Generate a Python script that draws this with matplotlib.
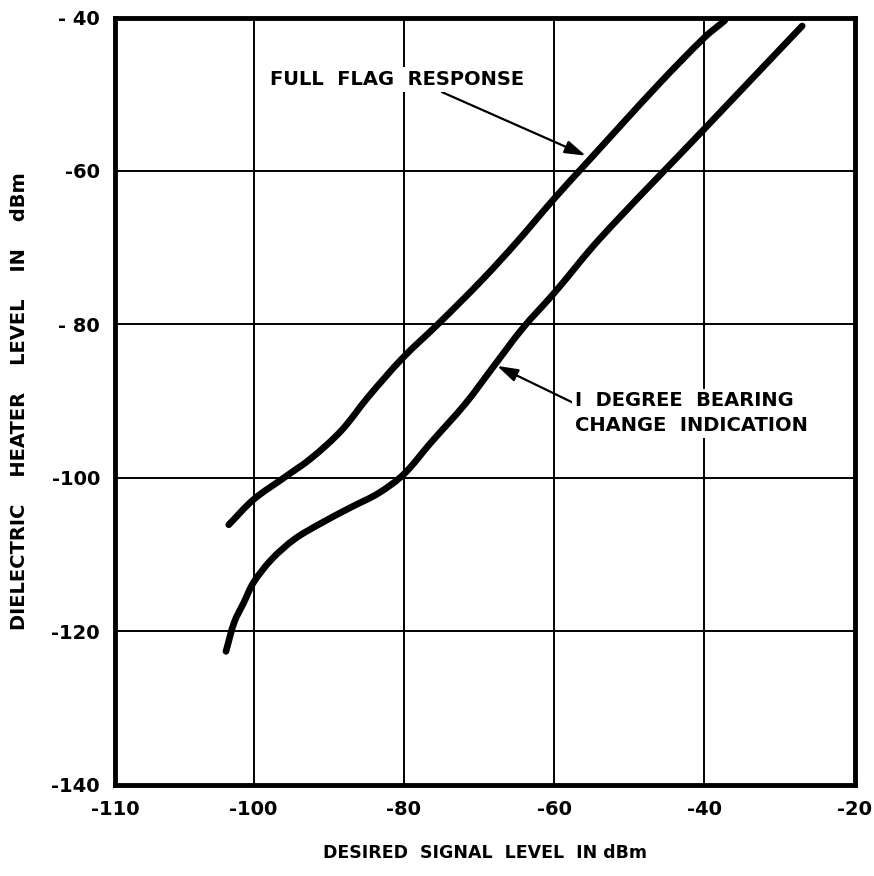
import numpy as np
import matplotlib
matplotlib.use("Agg")
import matplotlib.pyplot as plt
from matplotlib.path import Path
from matplotlib.patches import PathPatch

# ---- data ----
full_flag_x = [-101.8, -100.0, -96.0, -92.3, -88.3, -84.8, -80.2, -75.3, -69.7, -65.1, -60.0, -56.2, -46.1, -40.0, -37.3]
full_flag_y = [-106.1, -102.8, -100.0, -97.4, -93.8, -89.5, -84.4, -79.8, -74.3, -69.4, -63.6, -59.5, -48.7, -42.6, -40.4]

bearing_x = [-102.0, -101.4, -100.7, -100.0, -97.6, -94.6, -91.4, -87.0, -83.4, -80.0, -76.5, -71.8, -68.4, -64.2, -60.0, -54.0, -40.0, -33.6, -27.0]
bearing_y = [-122.6, -118.8, -116.2, -113.6, -110.6, -108.0, -106.1, -103.8, -102.0, -99.5, -95.5, -90.3, -85.9, -80.5, -75.9, -68.9, -54.5, -47.9, -41.1]

x_ticks = [-110, -100, -80, -60, -40, -20]
x_tick_labels = ["-110", "-100", "-80", "-60", "-40", "-20"]
y_ticks = [-140, -120, -100, -80, -60, -40]
y_tick_labels = ["-140", "-120", "-100", "- 80", "-60", "- 40"]

# the original axis gives the -110..-100 interval almost the width of a 20 dB interval
STRETCH = 1.84

def fwd(x):
    x = np.asarray(x, dtype=float)
    return np.where(x < -100, -100 + (x + 100) * STRETCH, x)

def inv(u):
    u = np.asarray(u, dtype=float)
    return np.where(u < -100, -100 + (u + 100) / STRETCH, u)

plt.rcParams['font.family'] = ['DejaVu Sans']
plt.rcParams['font.weight'] = 'bold'

fig = plt.figure(figsize=(8.74, 8.76), dpi=100)
ax = fig.add_axes([0.132, 0.104, 0.846, 0.876])
ax.set_xscale('function', functions=(fwd, inv))
ax.set_xlim(-110, -20)
ax.set_ylim(-140, -40)

ax.set_xticks(x_ticks)
ax.set_xticklabels(x_tick_labels)
ax.set_yticks(y_ticks)
ax.set_yticklabels(y_tick_labels)
ax.minorticks_off()
ax.tick_params(length=0, labelsize=14, pad=11)
for lab in ax.get_xticklabels() + ax.get_yticklabels():
    lab.set_fontweight('bold')

ax.grid(True, color='black', linewidth=1.4)
ax.set_axisbelow(True)
for s in ax.spines.values():
    s.set_linewidth(3.5)


def smooth_curve(xs, ys, lw):
    """Draw a smooth pen stroke through the read points (cubic Bezier, chord-length tangents)."""
    P = np.column_stack([fwd(xs), np.asarray(ys, float)])  # in the axis' scaled coordinates
    d = np.hypot(*np.diff(P, axis=0).T)
    t = np.concatenate([[0], np.cumsum(d)])
    n = len(P)
    M = np.zeros_like(P)
    M[0] = (P[1] - P[0]) / (t[1] - t[0])
    M[-1] = (P[-1] - P[-2]) / (t[-1] - t[-2])
    for i in range(1, n - 1):
        M[i] = (P[i + 1] - P[i - 1]) / (t[i + 1] - t[i - 1])
    verts = [P[0]]
    codes = [Path.MOVETO]
    for i in range(n - 1):
        h = t[i + 1] - t[i]
        verts += [P[i] + M[i] * h / 3, P[i + 1] - M[i + 1] * h / 3, P[i + 1]]
        codes += [Path.CURVE4] * 3
    patch = PathPatch(Path(verts, codes), fill=False, edgecolor='black', lw=lw,
                      capstyle='round', joinstyle='round',
                      transform=ax.transLimits + ax.transAxes, zorder=3)
    ax.add_patch(patch)


lw = 4.8
smooth_curve(full_flag_x, full_flag_y, lw)
smooth_curve(bearing_x, bearing_y, lw)

ax.annotate("FULL  FLAG  RESPONSE", xy=(-55.8, -58.0), xytext=(-97.8, -48.1),
            fontsize=14, fontweight='bold', ha='left', va='center',
            bbox=dict(boxstyle='square,pad=0.15', fc='white', ec='none'),
            arrowprops=dict(arrowstyle='-|>,head_length=0.9,head_width=0.28', color='black',
                            lw=1.6, shrinkA=0, shrinkB=0,
                            relpos=(0.65, 0.0)))

ax.annotate("I  DEGREE  BEARING\nCHANGE  INDICATION", xy=(-67.6, -85.4), xytext=(-57.2, -91.6),
            fontsize=14, fontweight='bold', ha='left', va='center', linespacing=1.4,
            bbox=dict(boxstyle='square,pad=0.15', fc='white', ec='none'),
            arrowprops=dict(arrowstyle='-|>,head_length=0.9,head_width=0.28', color='black',
                            lw=1.6, shrinkA=0, shrinkB=0,
                            relpos=(0.0, 0.72)))

ax.set_xlabel("DESIRED  SIGNAL  LEVEL  IN dBm", fontsize=12.5, fontweight='bold', labelpad=18)
ax.set_ylabel("DIELECTRIC    HEATER    LEVEL    IN    dBm", fontsize=14, fontweight='bold', labelpad=16)

fig.savefig("out.png", dpi=100)
